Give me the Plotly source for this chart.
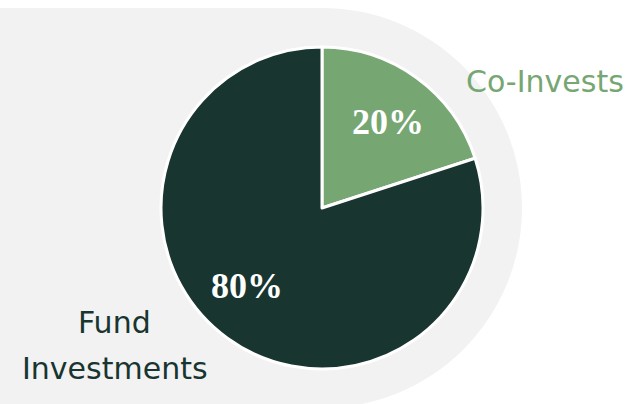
import math
import plotly.graph_objects as go

labels = ["Co-Invests", "Fund Investments"]
values = [20, 80]
colors = ["#76a672", "#183530"]
label_colors = ["#76a672", "#183530"]

W, H = 636, 404

def px(x):
    return x / W

def py(y):
    return (H - y) / H

cx, cy, r = 322, 208, 161

fig = go.Figure()
fig.add_trace(go.Pie(
    labels=labels,
    values=values,
    sort=False,
    direction="clockwise",
    rotation=0,
    marker=dict(colors=colors, line=dict(color="white", width=3)),
    textinfo="none",
    hoverinfo="label+percent",
    showlegend=False,
    domain=dict(x=[px(cx - r), px(cx + r)], y=[py(cy + r), py(cy - r)]),
))

# percentage labels placed along each slice's bisector
total = sum(values)
start = 0.0
offsets = [1.5, 8]  # angular nudge (deg) to match original placement
for i, v in enumerate(values):
    frac = v / total
    mid = (start + frac / 2) * 360 + offsets[i]
    start += frac
    rr = 0.67 * r
    tx = cx + rr * math.sin(math.radians(mid))
    ty = cy - rr * math.cos(math.radians(mid))
    fig.add_annotation(x=px(tx), y=py(ty), xref="paper", yref="paper",
                       text=f"{round(frac * 100)}%", showarrow=False,
                       xanchor="center", yanchor="middle",
                       font=dict(family="Liberation Serif", size=36, color="white", weight="bold"))

# light grey backdrop: rectangle + circle
fig.add_shape(type="rect", xref="paper", yref="paper",
              x0=0, x1=px(cx), y0=py(H + 2), y1=py(8),
              fillcolor="#f2f2f2", line=dict(width=0), layer="below")
fig.add_shape(type="circle", xref="paper", yref="paper",
              x0=px(cx - 200), x1=px(cx + 200), y0=py(408), y1=py(8),
              fillcolor="#f2f2f2", line=dict(width=0), layer="below")

label_font = "DejaVu Sans"
fig.add_annotation(x=px(545), y=py(82), xref="paper", yref="paper",
                   text=labels[0], showarrow=False, xanchor="center", yanchor="middle",
                   font=dict(family=label_font, size=30, color=label_colors[0]))
for i, word in enumerate(labels[1].split(" ")):
    fig.add_annotation(x=px(115), y=py(322 + 46 * i), xref="paper", yref="paper",
                       text=word, showarrow=False, xanchor="center", yanchor="middle",
                       font=dict(family=label_font, size=30, color=label_colors[1]))

fig.update_layout(
    width=W, height=H,
    margin=dict(l=0, r=0, t=0, b=0),
    paper_bgcolor="white",
    plot_bgcolor="white",
)

fig.write_html("out.html",
               config={"displayModeBar": False},
               post_script="document.body.style.margin='0';document.body.style.overflow='hidden';")
